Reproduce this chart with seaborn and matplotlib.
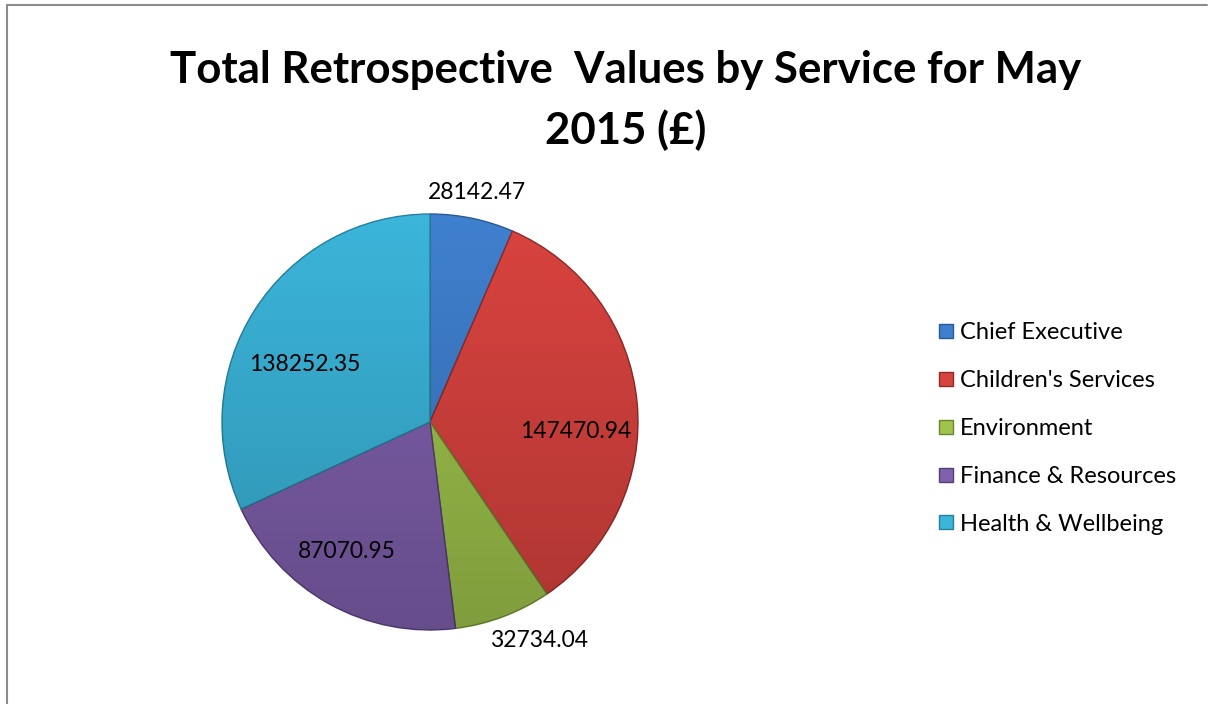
#Import helpful toolboxes etc
import matplotlib
matplotlib.use('Agg')
import matplotlib.pyplot as plt
import numpy as np
import seaborn as sns
from matplotlib.lines import Line2D
from matplotlib.patches import Circle

#chart data
services = ['Chief Executive', "Children's Services", 'Environment',
            'Finance & Resources', 'Health & Wellbeing']
values = [28142.47, 147470.94, 32734.04, 87070.95, 138252.35]
value_labels = ['28142.47', '147470.94', '32734.04', '87070.95', '138252.35']

#colours of each slice (excel 2007 style)
colours = ['#3F80CE', '#D9433F', '#9FC44C', '#8060AD', '#3BB5DA']
edges = ['#2A5A94', '#8E2B29', '#6B8530', '#553E75', '#25809C']

#set up the style
sns.set_theme(style="white")
plt.rcParams['font.family'] = ['Lato', 'DejaVu Sans']
plt.rcParams['text.color'] = 'black'

fig = plt.figure(figsize=(12.09, 7.04), dpi=100)
W, H = 1209, 704

#pie axes: centre and radius in pixels
cx, cy, r = 430, 422, 208
ax = fig.add_axes([(cx - r) / W, (H - cy - r) / H, 2 * r / W, 2 * r / H])

wedges, _ = ax.pie(values, colors=colours, startangle=90, counterclock=False,
                   radius=1.0, wedgeprops=dict(linewidth=1.0))
for w, e in zip(wedges, edges):
    w.set_edgecolor(e)

#soft top-to-bottom shading over the pie, like the excel bevel look
grad = np.zeros((200, 2, 4))
grad[:, :, 3] = np.linspace(0.0, 0.2, 200)[:, None]
shade = ax.imshow(grad, extent=(-1, 1, -1, 1), origin='upper', zorder=3,
                  interpolation='bilinear')
shade.set_clip_path(Circle((0, 0), 1.0, transform=ax.transData))

ax.set_xlim(-1, 1)
ax.set_ylim(-1, 1)
ax.set_axis_off()

#label distance from the centre for each slice (fraction of the radius)
dist = [1.125, 0.70, 1.174, 0.74, 0.66]
shift = [0, -9, 6, -3.5, 8]
for w, lab, d, s in zip(wedges, value_labels, dist, shift):
    ang = np.deg2rad((w.theta1 + w.theta2) / 2 + s)
    ax.text(d * np.cos(ang), d * np.sin(ang), lab, ha='center', va='center',
            fontsize=16.5, color='black', clip_on=False, zorder=5)

#title
fig.text(626 / W, 1 - 70 / H, 'Total Retrospective  Values by Service for May',
         ha='center', va='center', fontsize=31.5, fontweight='bold', color='black')
fig.text(626 / W, 1 - 130 / H, '2015 (£)',
         ha='center', va='center', fontsize=31.5, fontweight='bold', color='black')

#legend
handles = [Line2D([0], [0], marker='s', linestyle='none', markersize=10,
                  markerfacecolor=c, markeredgecolor=e, markeredgewidth=1)
           for c, e in zip(colours, edges)]
fig.legend(handles, services, loc='upper left', bbox_to_anchor=(928 / W, 1 - 313 / H),
           frameon=False, fontsize=17, handlelength=0.7, handletextpad=0.25,
           labelspacing=1.135, borderaxespad=0)

#chart area border (top and left visible)
fig.add_artist(Line2D([7 / W, 1207 / W], [1 - 5 / H, 1 - 5 / H], color='#8c8c8c',
                      linewidth=1.5, transform=fig.transFigure))
fig.add_artist(Line2D([7 / W, 7 / W], [1 - 5 / H, 0], color='#8c8c8c',
                      linewidth=1.5, transform=fig.transFigure))

plt.savefig('out.png', dpi=100)
